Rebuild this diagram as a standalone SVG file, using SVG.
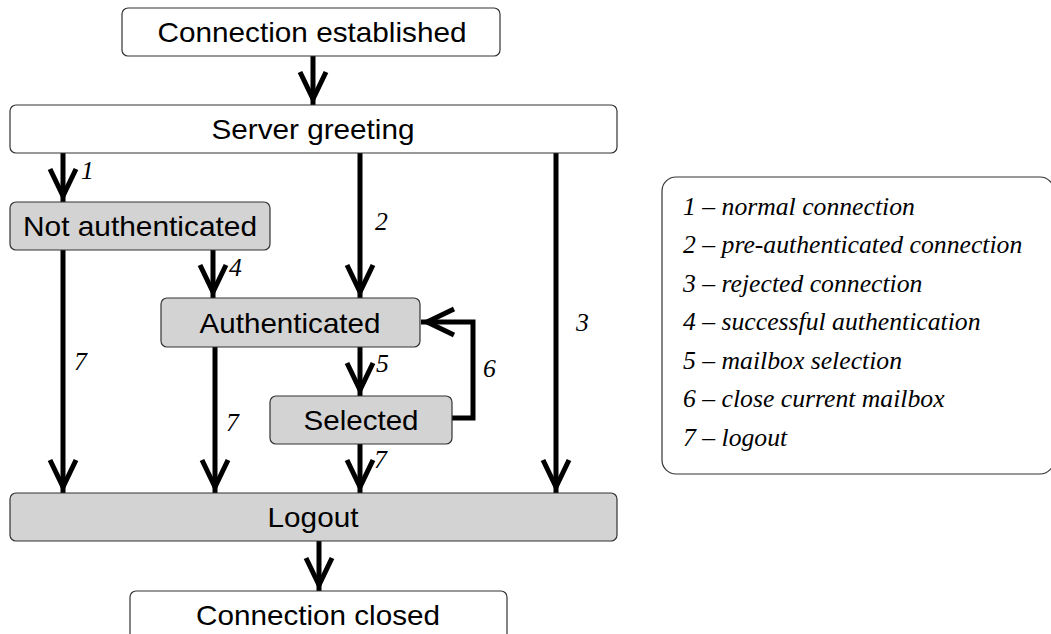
<svg xmlns="http://www.w3.org/2000/svg" width="1051" height="634" viewBox="0 0 1051 634">
<style>
.box{stroke:#333;stroke-width:1.2;}
.w{fill:#fff;}
.g{fill:#d3d3d3;}
.t{font-family:"Liberation Sans",Arial,sans-serif;font-size:28px;fill:#000;text-anchor:middle;}
.lbl{font-family:"Liberation Serif","Times New Roman",serif;font-style:italic;font-size:25.7px;fill:#000;}
.c{fill:none;stroke:#000;stroke-width:5;marker-end:url(#ah);}
</style>
<defs>
<marker id="ah" markerUnits="userSpaceOnUse" viewBox="-40 -20 44 40" refX="0" refY="0" markerWidth="44" markerHeight="40" orient="auto">
<path d="M -33 -13 L -6 0 L -33 13" fill="none" stroke="#000" stroke-width="5" stroke-linejoin="miter"/>
</marker>
</defs>
<rect width="1051" height="634" fill="#fff"/>
<g id="connectors">
<path class="c" d="M313 56 V105"/>
<path class="c" d="M63 153 V202"/>
<path class="c" d="M360 153 V298"/>
<path class="c" d="M556 153 V493"/>
<path class="c" d="M213 250 V298"/>
<path class="c" d="M63 250 V493"/>
<path class="c" d="M215 347 V493"/>
<path class="c" d="M360 347 V396"/>
<path class="c" d="M360 444 V493"/>
<path class="c" d="M452 418 H473 V322 H421"/>
<path class="c" d="M319 541 V591"/>
</g>
<g id="labels">
<text class="lbl" x="81" y="179">1</text>
<text class="lbl" x="375" y="230">2</text>
<text class="lbl" x="576" y="331">3</text>
<text class="lbl" x="229" y="276">4</text>
<text class="lbl" x="376" y="372">5</text>
<text class="lbl" x="483" y="377">6</text>
<text class="lbl" x="74" y="370">7</text>
<text class="lbl" x="226" y="431">7</text>
<text class="lbl" x="374" y="468">7</text>
</g>
<g id="n-established">
<rect class="box w" x="122" y="8" width="378" height="48" rx="6"/>
<text class="t" x="312" y="42" textLength="309" lengthAdjust="spacingAndGlyphs">Connection established</text>
</g>
<g id="n-greeting">
<rect class="box w" x="10" y="105" width="607" height="48" rx="6"/>
<text class="t" x="313" y="139" textLength="203" lengthAdjust="spacingAndGlyphs">Server greeting</text>
</g>
<g id="n-notauth">
<rect class="box g" x="10" y="202" width="260" height="48" rx="6"/>
<text class="t" x="140" y="236" textLength="234" lengthAdjust="spacingAndGlyphs">Not authenticated</text>
</g>
<g id="n-auth">
<rect class="box g" x="161" y="298" width="259" height="49" rx="6"/>
<text class="t" x="290" y="333" textLength="181" lengthAdjust="spacingAndGlyphs">Authenticated</text>
</g>
<g id="n-selected">
<rect class="box g" x="270" y="396" width="182" height="48" rx="6"/>
<text class="t" x="361" y="430" textLength="115" lengthAdjust="spacingAndGlyphs">Selected</text>
</g>
<g id="n-logout">
<rect class="box g" x="10" y="493" width="607" height="48" rx="6"/>
<text class="t" x="313" y="527" textLength="91" lengthAdjust="spacingAndGlyphs">Logout</text>
</g>
<g id="n-closed">
<rect class="box w" x="130" y="591" width="377" height="60" rx="6"/>
<text class="t" x="318" y="625" textLength="244" lengthAdjust="spacingAndGlyphs">Connection closed</text>
</g>
<g id="legend">
<rect class="box w" x="662" y="177" width="392" height="297" rx="14"/>
<text class="lbl" x="683" y="215">1 – normal connection</text>
<text class="lbl" x="683" y="253">2 – pre-authenticated connection</text>
<text class="lbl" x="683" y="292">3 – rejected connection</text>
<text class="lbl" x="683" y="330">4 – successful authentication</text>
<text class="lbl" x="683" y="369">5 – mailbox selection</text>
<text class="lbl" x="683" y="407">6 – close current mailbox</text>
<text class="lbl" x="683" y="446">7 – logout</text>
</g>
</svg>
